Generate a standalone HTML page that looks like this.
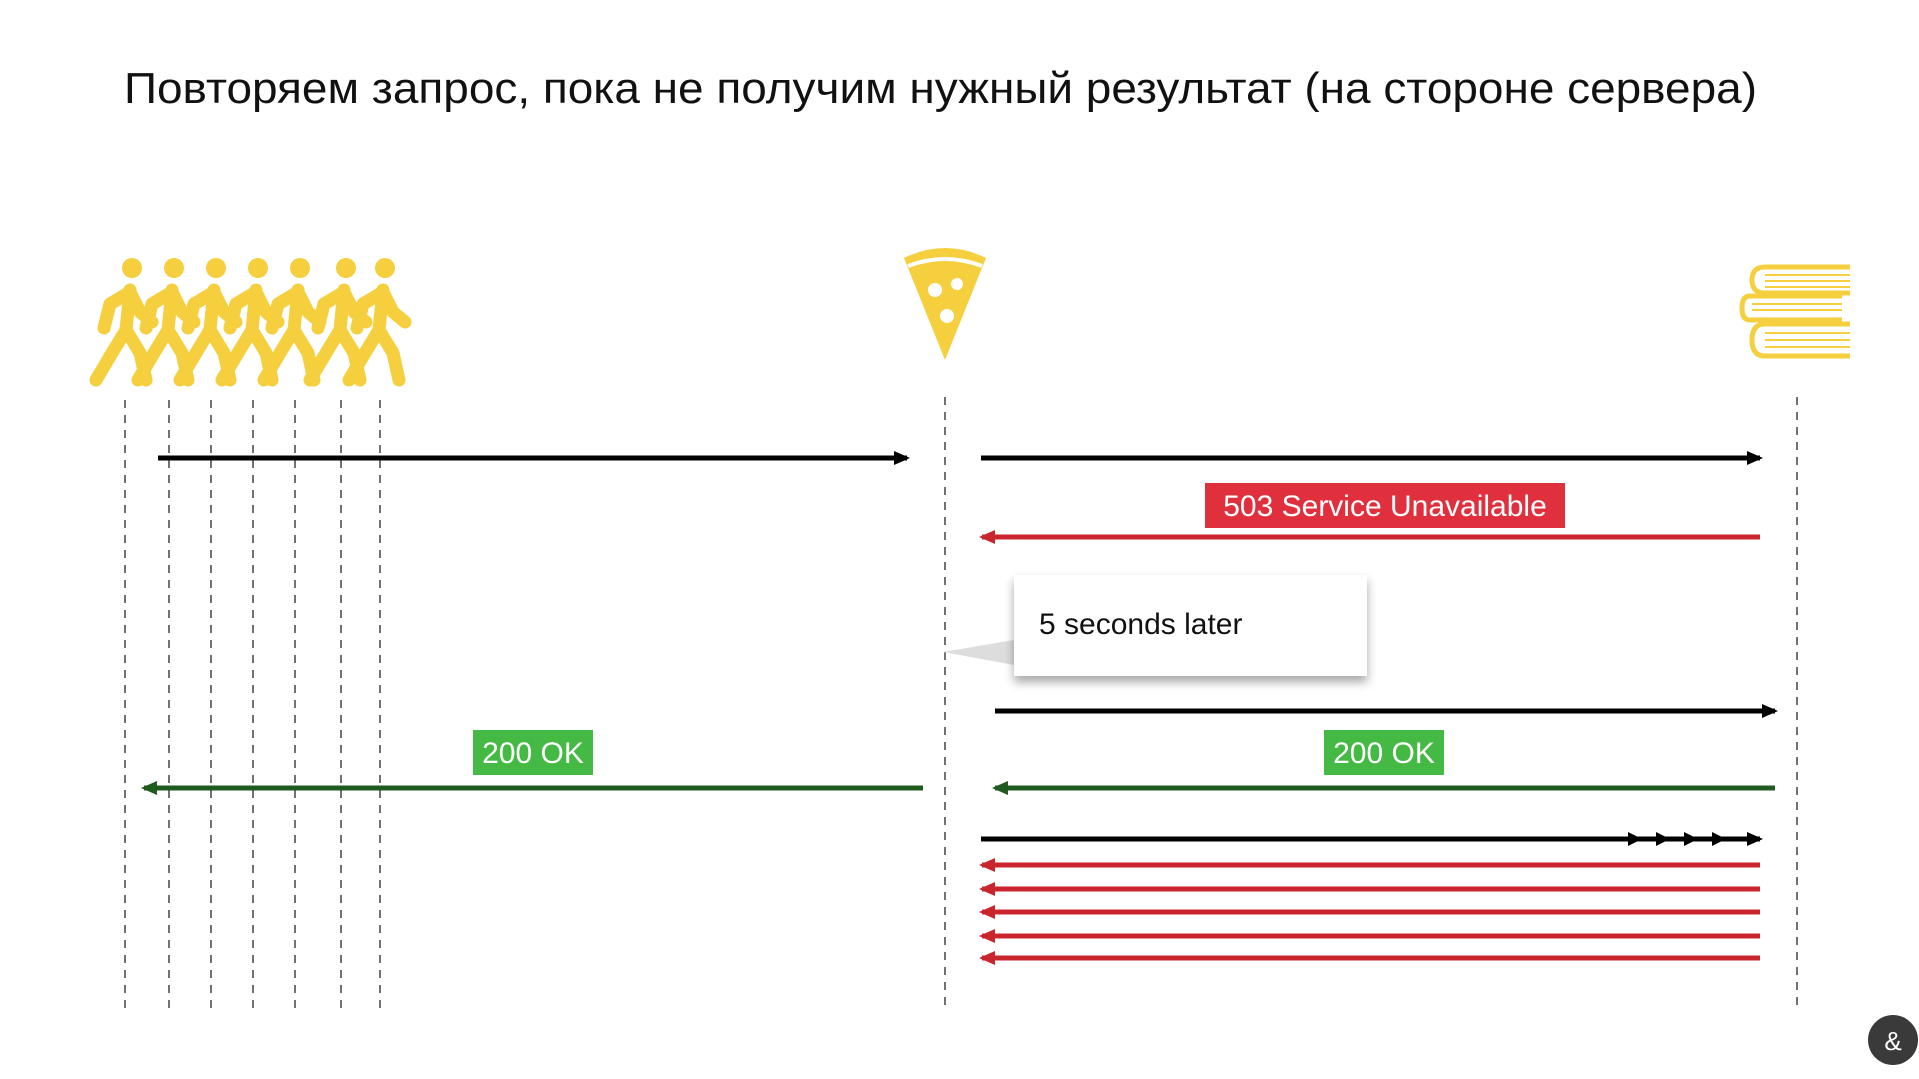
<!DOCTYPE html>
<html><head><meta charset="utf-8"><style>
html,body{margin:0;padding:0;background:#fff;}
svg{display:block;}
</style></head><body>
<svg width="1919" height="1079" viewBox="0 0 1919 1079" xmlns="http://www.w3.org/2000/svg">
<defs>
<marker id="ar" markerWidth="16" markerHeight="16" refX="13" refY="8" orient="auto" markerUnits="userSpaceOnUse"><path d="M0,1 L16,8 L0,15 z" fill="#c8262c"/></marker>
<marker id="ag" markerWidth="16" markerHeight="16" refX="13" refY="8" orient="auto" markerUnits="userSpaceOnUse"><path d="M0,1 L16,8 L0,15 z" fill="#1f5a1f"/></marker>
<marker id="abk" markerWidth="16" markerHeight="16" refX="13" refY="8" orient="auto" markerUnits="userSpaceOnUse"><path d="M0,1 L16,8 L0,15 z" fill="#000"/></marker>
<g id="walker" stroke="#f5cf3e" stroke-width="13" stroke-linecap="round" stroke-linejoin="round" fill="none">
<circle cx="0" cy="0" r="10" fill="#f5cf3e" stroke="none"/>
<path d="M-2,22 L-6,62"/>
<path d="M-6,62 L-20,85 L-36,112"/>
<path d="M-6,62 L8,85 L14,112"/>
<path d="M-2,24 L-22,36 L-28,60"/>
<path d="M-2,24 L8,44 L20,54"/>
</g>
<filter id="sh" x="-20%" y="-20%" width="140%" height="150%"><feDropShadow dx="0" dy="6" stdDeviation="5" flood-color="#000" flood-opacity="0.35"/></filter>
</defs>

<text x="124" y="103" font-family="Liberation Sans, sans-serif" font-size="44" fill="#111" textLength="1633" lengthAdjust="spacingAndGlyphs">Повторяем запрос, пока не получим нужный результат (на стороне сервера)</text>

<use href="#walker" x="132" y="268"/>
<use href="#walker" x="174" y="268"/>
<use href="#walker" x="216" y="268"/>
<use href="#walker" x="258" y="268"/>
<use href="#walker" x="300" y="268"/>
<use href="#walker" x="346" y="268"/>
<use href="#walker" x="385" y="268"/>

<path d="M904,258 Q945,238 986,258 L945,360 Z" fill="#f5cf3e"/>
<path d="M908,266 Q945,252 982,266" stroke="#fff" stroke-width="4" fill="none"/>
<circle cx="935" cy="290" r="7" fill="#fff"/><circle cx="957" cy="284" r="6" fill="#fff"/><circle cx="947" cy="316" r="7" fill="#fff"/>

<g fill="none" stroke="#f5cf3e" stroke-width="5">
<path d="M1850,267 H1765 Q1752,267 1752,280 Q1752,293 1765,293 H1850"/>
<path d="M1842,296 H1750 Q1742,296 1742,308 Q1742,320 1750,320 H1842"/>
<path d="M1850,324 H1765 Q1752,324 1752,340 Q1752,356 1765,356 H1850"/>
</g>
<g stroke="#f5cf3e" stroke-width="2">
<line x1="1765" y1="275" x2="1850" y2="275"/><line x1="1765" y1="281" x2="1850" y2="281"/><line x1="1765" y1="287" x2="1850" y2="287"/>
<line x1="1752" y1="304" x2="1842" y2="304"/><line x1="1752" y1="310" x2="1842" y2="310"/>
<line x1="1765" y1="333" x2="1850" y2="333"/><line x1="1765" y1="340" x2="1850" y2="340"/><line x1="1765" y1="347" x2="1850" y2="347"/>
</g>

<g stroke="#444" stroke-width="1.5" stroke-dasharray="8,7">
<line x1="125" y1="400" x2="125" y2="1012"/>
<line x1="169" y1="400" x2="169" y2="1012"/>
<line x1="211" y1="400" x2="211" y2="1012"/>
<line x1="253" y1="400" x2="253" y2="1012"/>
<line x1="295" y1="400" x2="295" y2="1012"/>
<line x1="341" y1="400" x2="341" y2="1012"/>
<line x1="380" y1="400" x2="380" y2="1012"/>
<line x1="945" y1="397" x2="945" y2="1005"/>
<line x1="1797" y1="397" x2="1797" y2="1005"/>
</g>

<line x1="158" y1="458" x2="907" y2="458" stroke="#000" stroke-width="5" marker-end="url(#abk)"/>
<line x1="981" y1="458" x2="1760" y2="458" stroke="#000" stroke-width="5" marker-end="url(#abk)"/>
<rect x="1205" y="483" width="360" height="45" fill="#e0303d"/>
<text x="1385" y="516" text-anchor="middle" font-family="Liberation Sans, sans-serif" font-size="30" fill="#fff">503 Service Unavailable</text>
<line x1="1760" y1="537" x2="982" y2="537" stroke="#c8262c" stroke-width="5" marker-end="url(#ar)"/>

<path d="M1014,640 L943,652 L1014,665 Z" fill="#ddd"/>
<rect x="1014" y="575" width="353" height="101" fill="#fff" filter="url(#sh)"/>
<text x="1039" y="634" font-family="Liberation Sans, sans-serif" font-size="30" fill="#111">5 seconds later</text>

<line x1="995" y1="711" x2="1775" y2="711" stroke="#000" stroke-width="5" marker-end="url(#abk)"/>
<rect x="1324" y="730" width="120" height="45" fill="#44b944"/>
<text x="1384" y="763" text-anchor="middle" font-family="Liberation Sans, sans-serif" font-size="30" fill="#fff">200 OK</text>
<line x1="1775" y1="788" x2="995" y2="788" stroke="#1f5a1f" stroke-width="5" marker-end="url(#ag)"/>
<rect x="473" y="730" width="120" height="45" fill="#44b944"/>
<text x="533" y="763" text-anchor="middle" font-family="Liberation Sans, sans-serif" font-size="30" fill="#fff">200 OK</text>
<line x1="923" y1="788" x2="144" y2="788" stroke="#1f5a1f" stroke-width="5" marker-end="url(#ag)"/>

<line x1="981" y1="839" x2="1760" y2="839" stroke="#000" stroke-width="5" marker-end="url(#abk)"/>
<g fill="#000">
<path d="M1628,832 L1642,839 L1628,846 Z"/><path d="M1656,832 L1670,839 L1656,846 Z"/><path d="M1684,832 L1698,839 L1684,846 Z"/><path d="M1712,832 L1726,839 L1712,846 Z"/>
</g>
<g stroke="#c8262c" stroke-width="5">
<line x1="1760" y1="865" x2="982" y2="865" marker-end="url(#ar)"/>
<line x1="1760" y1="889" x2="982" y2="889" marker-end="url(#ar)"/>
<line x1="1760" y1="912" x2="982" y2="912" marker-end="url(#ar)"/>
<line x1="1760" y1="936" x2="982" y2="936" marker-end="url(#ar)"/>
<line x1="1760" y1="958" x2="982" y2="958" marker-end="url(#ar)"/>
</g>

<circle cx="1893" cy="1040" r="25" fill="#3a3a3a"/>
<text x="1893" y="1050" text-anchor="middle" font-family="Liberation Sans, sans-serif" font-size="26" fill="#fff">&amp;</text>
</svg>
</body></html>
